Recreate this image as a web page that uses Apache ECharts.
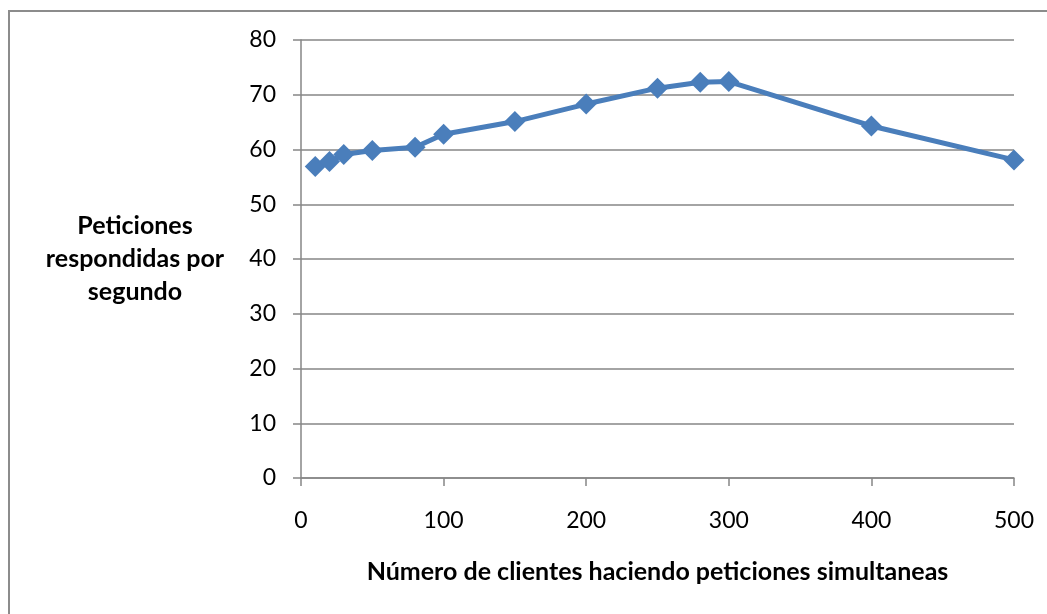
<!DOCTYPE html>
<html>
<head>
<meta charset="utf-8">
<script src="https://cdn.jsdelivr.net/npm/echarts@6/dist/echarts.min.js"></script>
<style>
html,body{margin:0;padding:0;background:#fff;}
#chart{width:1047px;height:614px;}
</style>
</head>
<body>
<div id="chart"></div>
<script>
const clients = [10, 20, 30, 50, 80, 100, 150, 200, 250, 280, 300, 400, 500];
const requestsPerSecond = [56.9, 57.8, 59.1, 59.8, 60.4, 62.8, 65.1, 68.3, 71.2, 72.3, 72.4, 64.3, 58.1];
const xTitle = 'Número de clientes haciendo peticiones simultaneas';
const yTitle = 'Peticiones\nrespondidas por\nsegundo';

const FONT = 'Lato, "Liberation Sans", sans-serif';
const chart = echarts.init(document.getElementById('chart'), null, {renderer: 'canvas'});
chart.setOption({
  animation: false,
  backgroundColor: '#ffffff',
  graphic: [{
    type: 'rect',
    shape: {x: 9, y: 11, width: 1200, height: 800},
    style: {fill: 'none', stroke: '#8c8c8c', lineWidth: 2},
    silent: true
  }],
  grid: {left: 301, right: 33, top: 40, bottom: 136, containLabel: false},
  xAxis: {
    type: 'value',
    min: 0, max: 500, interval: 100,
    name: xTitle,
    nameLocation: 'middle',
    nameGap: 94,
    nameTextStyle: {fontFamily: FONT, fontWeight: 'bold', fontSize: 25, color: '#000', verticalAlign: 'middle'},
    axisLine: {show: true, onZero: false, lineStyle: {color: '#868686', width: 1.5}},
    axisTick: {show: true, length: 8, inside: false, lineStyle: {color: '#868686', width: 1.5}},
    axisLabel: {fontFamily: FONT, fontSize: 23, color: '#000', margin: 31},
    splitLine: {show: false}
  },
  yAxis: {
    type: 'value',
    min: 0, max: 80, interval: 10,
    name: yTitle,
    nameLocation: 'middle',
    nameRotate: 0,
    nameGap: 166,
    nameTextStyle: {fontFamily: FONT, fontWeight: 'bold', fontSize: 25, color: '#000', align: 'center', verticalAlign: 'middle', lineHeight: 33},
    axisLine: {show: true, lineStyle: {color: '#868686', width: 1.5}},
    axisTick: {show: true, length: 8, lineStyle: {color: '#868686', width: 1.5}},
    axisLabel: {fontFamily: FONT, fontSize: 23, color: '#000', margin: 25},
    splitLine: {show: true, lineStyle: {color: '#868686', width: 1.5}}
  },
  series: [{
    type: 'line',
    data: clients.map((c, i) => [c, requestsPerSecond[i]]),
    symbol: 'diamond',
    symbolSize: 21,
    itemStyle: {color: '#4a7ebb'},
    lineStyle: {color: '#4a7ebb', width: 5},
    z: 5
  }]
});
</script>
</body>
</html>
